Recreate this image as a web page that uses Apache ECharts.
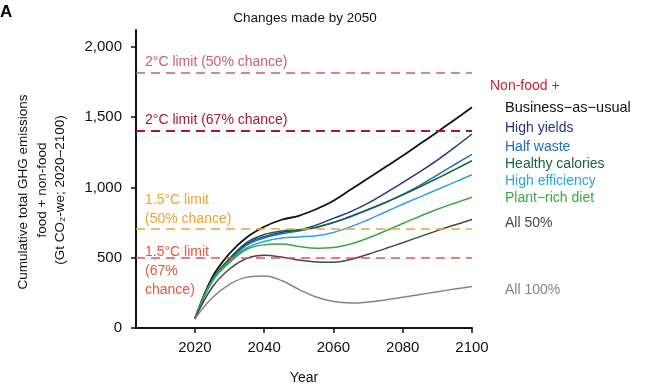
<!DOCTYPE html>
<html><head><meta charset="utf-8">
<script src="https://cdn.jsdelivr.net/npm/echarts@6/dist/echarts.min.js"></script>
<style>html,body{margin:0;padding:0;background:#fff}#c{width:650px;height:390px}</style>
</head><body><div id="c"></div>
<script>
const years = [2020,2025,2030,2035,2040,2045,2050,2055,2060,2065,2070,2075,2080,2085,2090,2095,2100];
const businessAsUsual = [65,360,530,645,720,770,798,845,905,985,1065,1145,1225,1310,1395,1482,1570];
const highYields      = [65,340,490,600,650,680,697,732,780,828,888,960,1035,1112,1195,1285,1380];
const halfWaste       = [65,340,480,590,640,670,690,715,750,792,840,893,950,1015,1090,1163,1235];
const healthyCalories = [65,345,495,610,665,690,698,717,750,795,843,893,947,1005,1065,1127,1190];
const highEfficiency  = [65,335,475,570,615,640,648,656,680,720,770,825,880,933,985,1038,1090];
const plantRichDiet   = [65,330,465,560,592,598,580,567,572,597,640,690,743,795,845,888,930];
const all50           = [65,290,420,495,518,505,483,470,468,488,525,565,607,650,693,733,772];
const all100          = [65,215,310,362,370,338,275,220,188,178,185,200,218,238,258,277,295];

const limitNames  = ['2°C limit (50% chance)','2°C limit (67% chance)','1.5°C limit (50% chance)','1.5°C limit (67% chance)'];
const limitValues = [1816,1405,705,500];

const xTicks = [2020,2040,2060,2080,2100];
const yTicks = [0,500,1000,1500,2000];

const seriesDefs = [
  ['Business-as-usual', businessAsUsual, '#111111', 1.8],
  ['High yields', highYields, '#2b3285', 1.5],
  ['Half waste', halfWaste, '#1f6fb2', 1.5],
  ['Healthy calories', healthyCalories, '#17663a', 1.5],
  ['High efficiency', highEfficiency, '#2aa4de', 1.5],
  ['Plant-rich diet', plantRichDiet, '#3aa83f', 1.5],
  ['All 50%', all50, '#474747', 1.5],
  ['All 100%', all100, '#858585', 1.5]
];
const limitColors = ['#c8606c','#a3192f','#eea234','#e4573c'];
const limitWidths = [1.6,2.2,1.6,1.6];

const chart = echarts.init(document.getElementById('c'));
const font = '"Liberation Sans", Arial, Helvetica, sans-serif';

const series = seriesDefs.map(([name, vals, color, w]) => ({
  name, type: 'line', smooth: 0.4, symbol: 'none',
  data: years.map((y, i) => [y, vals[i]]),
  lineStyle: { color, width: w }, z: 3
}));
series.push({
  name: 'limits', type: 'line', data: [], symbol: 'none', z: 2,
  markLine: {
    silent: true, symbol: ['none','none'], label: { show: false },
    data: limitValues.map((v, i) => ({
      name: limitNames[i], yAxis: v,
      lineStyle: { color: limitColors[i], width: limitWidths[i], type: [9,6] }
    }))
  }
});

function t(text, x, y, color, size, opts) {
  opts = opts || {};
  return {
    type: 'text', x, y, rotation: opts.rotation || 0,
    style: { text, fill: color, font: (opts.bold ? 'bold ' : '') + size + 'px ' + font,
      textAlign: opts.align || 'left', textVerticalAlign: 'middle' }
  };
}

const graphics = [
  t('A', 0, 12, '#000', 17, { bold: true }),
  t('Changes made by 2050', 305, 18, '#111', 13.5, { align: 'center' }),
  t('Cumulative total GHG emissions', 23, 192, '#111', 13.5, { align: 'center', rotation: Math.PI/2 }),
  t('food + non-food', 42, 190, '#111', 13.5, { align: 'center', rotation: Math.PI/2 }),
  t('(Gt CO₂-we; 2020–2100)', 60, 190, '#111', 13.5, { align: 'center', rotation: Math.PI/2 }),
  t('2°C limit (50% chance)', 145, 62, '#c8606c', 14),
  t('2°C limit (67% chance)', 145, 120, '#a3192f', 14),
  t('1.5°C limit', 145, 200, '#eea234', 14),
  t('(50% chance)', 145, 219, '#eea234', 14),
  t('1.5°C limit', 145, 252, '#e4573c', 14),
  t('(67%', 145, 271, '#e4573c', 14),
  t('chance)', 145, 290, '#e4573c', 14),
  t('Non-food +', 490, 86, '#c4243a', 14),
  t('Business−as−usual', 505, 108, '#111111', 14.5),
  t('High yields', 505, 128, '#2b3285', 14),
  t('Half waste', 505, 147, '#1f6fb2', 14),
  t('Healthy calories', 505, 164, '#17663a', 14),
  t('High efficiency', 505, 181, '#2aa4de', 14),
  t('Plant−rich diet', 505, 198, '#3aa83f', 14),
  t('All 50%', 505, 223, '#474747', 14),
  t('All 100%', 505, 290, '#858585', 14)
];

chart.setOption({
  animation: false,
  textStyle: { fontFamily: font },
  grid: { left: 136, right: 178, top: 30, bottom: 59 },
  xAxis: {
    type: 'value', min: 2003, max: 2100,
    name: 'Year', nameLocation: 'middle', nameGap: 43,
    nameTextStyle: { color: '#111', fontSize: 14 },
    axisLine: { show: true, lineStyle: { color: '#111', width: 2 } },
    axisTick: { show: true, length: 5, lineStyle: { color: '#111', width: 1.5 }, customValues: xTicks },
    axisLabel: { color: '#111', fontSize: 15, margin: 12, customValues: xTicks, formatter: v => String(v) },
    splitLine: { show: false }
  },
  yAxis: {
    type: 'value', min: 0, max: 2120,
    axisLine: { show: true, lineStyle: { color: '#111', width: 2 } },
    axisTick: { show: true, length: 5, lineStyle: { color: '#111', width: 1.5 }, customValues: yTicks },
    axisLabel: { color: '#111', fontSize: 15, margin: 14, customValues: yTicks,
      formatter: v => v.toLocaleString('en-US') },
    splitLine: { show: false }
  },
  series,
  graphic: graphics
});
</script></body></html>
